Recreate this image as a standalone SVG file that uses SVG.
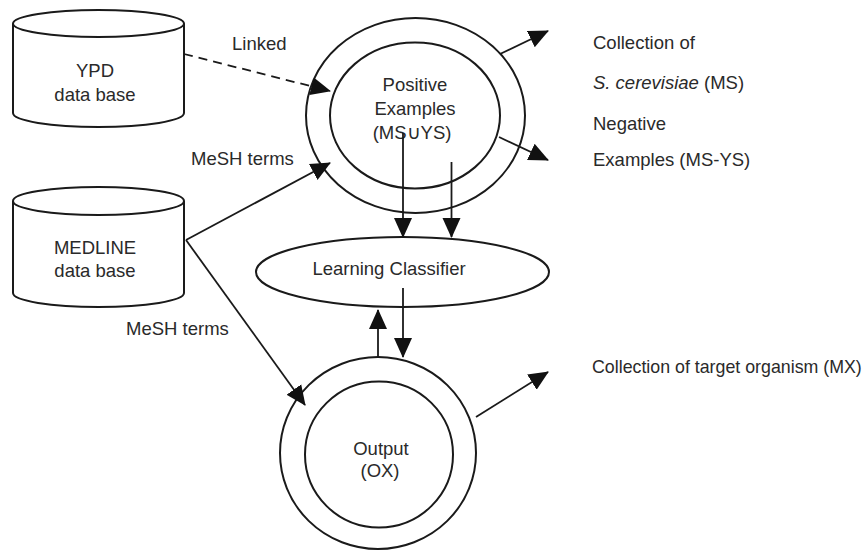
<svg xmlns="http://www.w3.org/2000/svg" width="868" height="553" viewBox="0 0 868 553">
<style>
.s{fill:none;stroke:#1a1a1a;stroke-width:2}
.t{font-family:"Liberation Sans",Arial,sans-serif;font-size:18.5px;fill:#2a2a2a}
.m{text-anchor:middle}
.c{fill:none;stroke:#1a1a1a;stroke-width:1.8}
.d{stroke-dasharray:9 6}
</style>
<defs>
<marker id="ah" viewBox="0 0 20 20" refX="19" refY="10" markerWidth="20" markerHeight="20" markerUnits="userSpaceOnUse" orient="auto">
<path d="M0,1 L20,10 L0,19 z" fill="#111"/>
</marker>
</defs>
<rect width="868" height="553" fill="#fff"/>

<g id="ypd">
<path class="s" d="M13,23.5 L13,113 A85.5,14 0 0 0 184,113 L184,23.5"/>
<ellipse class="s" cx="98.5" cy="23.5" rx="85.5" ry="13.5"/>
<text class="t m" x="95" y="77">YPD</text>
<text class="t m" x="95" y="101">data base</text>
</g>

<g id="medline">
<path class="s" d="M13,201 L13,293 A85.5,14 0 0 0 184,293 L184,201"/>
<ellipse class="s" cx="98.5" cy="201" rx="85.5" ry="14"/>
<text class="t m" x="95" y="254">MEDLINE</text>
<text class="t m" x="95" y="277">data base</text>
</g>

<g id="positive">
<ellipse class="s" cx="415.5" cy="115.5" rx="109.5" ry="97.5"/>
<ellipse class="s" cx="415" cy="115.5" rx="85" ry="73"/>
<text class="t m" x="415" y="91">Positive</text>
<text class="t m" x="415" y="115">Examples</text>
<text class="t m" x="412" y="139">(MS∪YS)</text>
</g>

<g id="classifier">
<ellipse class="s" cx="402.5" cy="272" rx="146.5" ry="35"/>
<text class="t m" x="389" y="275">Learning Classifier</text>
</g>

<g id="output">
<ellipse class="s" cx="378" cy="453" rx="98" ry="96"/>
<ellipse class="s" cx="379" cy="454.5" rx="74" ry="73"/>
<text class="t m" x="381" y="455">Output</text>
<text class="t m" x="380" y="477">(OX)</text>
</g>

<g id="labels">
<text class="t" x="232" y="50">Linked</text>
<text class="t" x="191" y="165">MeSH terms</text>
<text class="t" x="126" y="335">MeSH terms</text>
<text class="t" x="593" y="49">Collection of</text>
<text class="t" x="593" y="89"><tspan font-style="italic">S. cerevisiae</tspan> (MS)</text>
<text class="t" x="593" y="130">Negative</text>
<text class="t" x="593" y="165.5">Examples (MS-YS)</text>
<text class="t" x="592" y="373" style="font-size:17.8px">Collection of target organism (MX)</text>
</g>

<g id="connectors">
<line class="c d" x1="184" y1="54" x2="330" y2="91" marker-end="url(#ah)"/>
<line class="c" x1="186" y1="240" x2="330" y2="163" marker-end="url(#ah)"/>
<line class="c" x1="186" y1="240" x2="305" y2="405" marker-end="url(#ah)"/>
<line class="c" x1="500" y1="54" x2="548" y2="31" marker-end="url(#ah)"/>
<line class="c" x1="499" y1="137" x2="548" y2="160" marker-end="url(#ah)"/>
<line class="c" x1="403" y1="133" x2="403" y2="237" marker-end="url(#ah)"/>
<line class="c" x1="451.5" y1="162" x2="451.5" y2="237" marker-end="url(#ah)"/>
<line class="c" x1="378" y1="358" x2="378" y2="310" marker-end="url(#ah)"/>
<line class="c" x1="403" y1="288" x2="403" y2="357" marker-end="url(#ah)"/>
<line class="c" x1="476" y1="417" x2="548" y2="372" marker-end="url(#ah)"/>
</g>
</svg>
